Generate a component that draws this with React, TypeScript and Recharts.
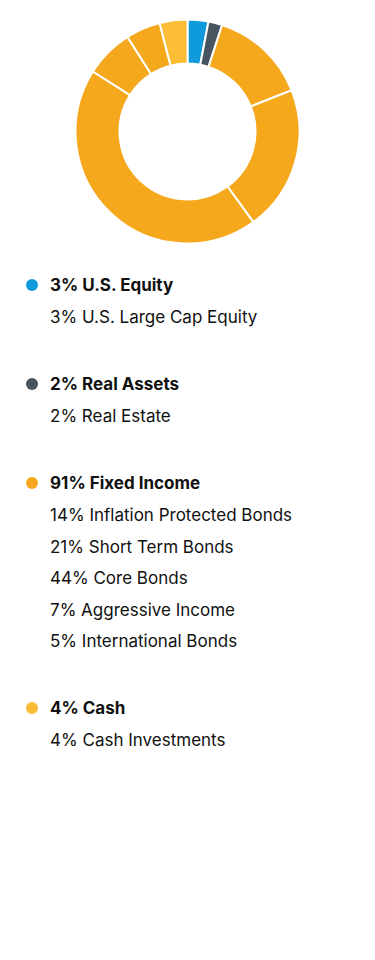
import React from 'react';
import { PieChart, Pie, Cell } from 'recharts';

const groupNames = ['U.S. Equity', 'Real Assets', 'Fixed Income', 'Cash'];
const groupValues = [3, 2, 91, 4];
const groupColors = ['#0f9bdb', '#46555f', '#f5a81c', '#fbbc36'];

const holdingNames = [
  'U.S. Large Cap Equity',
  'Real Estate',
  'Inflation Protected Bonds',
  'Short Term Bonds',
  'Core Bonds',
  'Aggressive Income',
  'International Bonds',
  'Cash Investments',
];
const holdingValues = [3, 2, 14, 21, 44, 7, 5, 4];
const holdingGroup = [0, 1, 2, 2, 2, 2, 2, 3];

const pieData = holdingNames.map((name, i) => ({
  name,
  value: holdingValues[i],
  color: groupColors[holdingGroup[i]],
}));

const font = 'Inter, "Noto Sans", sans-serif';

export default function App() {
  return (
    <div style={{ position: 'absolute', left: 0, top: 0, width: 375, height: 960, background: '#fff', fontFamily: font, color: '#111' }}>
      <PieChart width={375} height={250} margin={{ top: 0, right: 0, bottom: 0, left: 0 }}>
        <Pie
          data={pieData}
          dataKey="value"
          cx={187.5}
          cy={131.5}
          innerRadius={68}
          outerRadius={112}
          startAngle={90}
          endAngle={-270}
          stroke="#fff"
          strokeWidth={2}
          isAnimationActive={false}
        >
          {pieData.map((d, i) => (
            <Cell key={i} fill={d.color} />
          ))}
        </Pie>
      </PieChart>
      <div style={{ position: 'absolute', left: 0, top: 268, width: 375 }}>
        {groupNames.map((g, gi) => (
          <div key={g} style={{ marginBottom: 33.5 }}>
            <div style={{ position: 'relative', height: 34, lineHeight: '34px', paddingLeft: 50, fontSize: 17, fontWeight: 700 }}>
              <span style={{ position: 'absolute', left: 26, top: 11, width: 12, height: 12, borderRadius: 6, background: groupColors[gi] }} />
              {groupValues[gi]}% {g}
            </div>
            {holdingNames.map((h, hi) => holdingGroup[hi] === gi ? (
              <div key={h} style={{ height: 31.5, lineHeight: '31.5px', paddingLeft: 50, fontSize: 17 }}>
                {holdingValues[hi]}% {h}
              </div>
            ) : null)}
          </div>
        ))}
      </div>
    </div>
  );
}
